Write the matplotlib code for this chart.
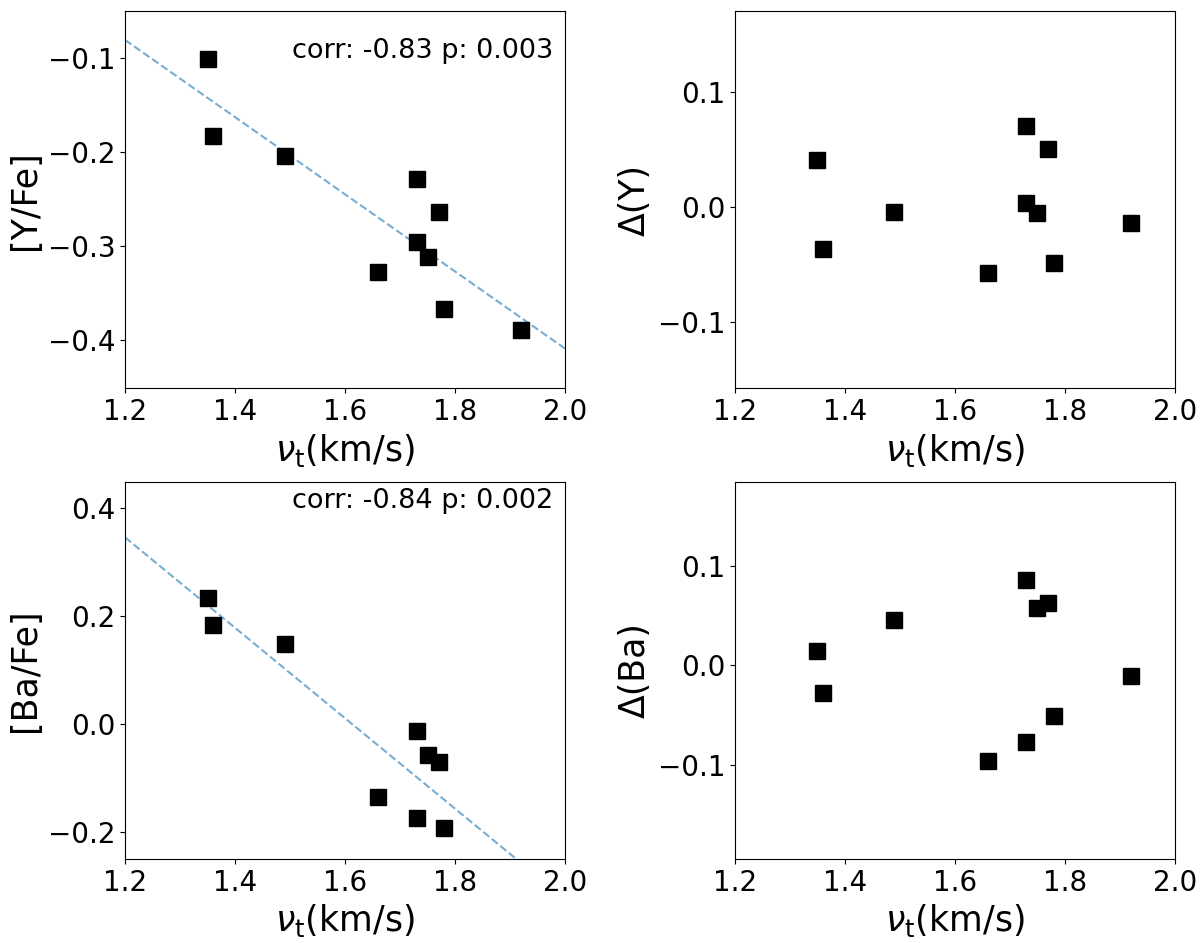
import numpy as np
import matplotlib
matplotlib.use("Agg")
import matplotlib.pyplot as plt

# ---- data ----
vt = [1.35, 1.36, 1.49, 1.66, 1.73, 1.73, 1.75, 1.77, 1.78, 1.92]
y_fe = [-0.101, -0.183, -0.204, -0.327, -0.228, -0.295, -0.311, -0.2635, -0.367, -0.389]
d_y = [0.0406, -0.0368, -0.0049, -0.0579, 0.0702, 0.0029, -0.0052, 0.0502, -0.0487, -0.0139]
ba_fe = [0.2346, 0.1839, 0.148, -0.1346, -0.0123, -0.174, -0.0568, -0.069, -0.191, -0.267]
d_ba = [0.0141, -0.0279, 0.0452, -0.096, 0.0856, -0.0768, 0.0573, 0.063, -0.0515, -0.0111]

corr_texts = ["corr: -0.83 p: 0.003", "corr: -0.84 p: 0.002"]
left_labels = ["[Y/Fe]", "[Ba/Fe]"]
right_labels = ["\u0394(Y)", "\u0394(Ba)"]
left_ylims = [(-0.451, -0.05), (-0.249, 0.449)]
right_ylims = [(-0.158, 0.170), (-0.195, 0.185)]
text_y = [-0.1003, 0.401]

xlabel = r"$\nu_{\rm t}$(km/s)"

fig, axes = plt.subplots(2, 2, figsize=(12, 9.43), dpi=100)
fig.subplots_adjust(left=0.1042, right=0.979, top=0.9883, bottom=0.0891,
                    wspace=0.386, hspace=0.247)

abund = [y_fe, ba_fe]
resid = [d_y, d_ba]
x = np.array(vt)
xx = np.linspace(1.2, 2.0, 50)

for i in range(2):
    axl = axes[i, 0]
    axr = axes[i, 1]
    yv = np.array(abund[i])
    m, b = np.polyfit(x, yv, 1)
    axl.plot(xx, m * xx + b, ls="--", color="C0", alpha=0.6, lw=1.5)
    axl.plot(x, yv, ls="none", marker="s", ms=11, color="black")
    axl.set_xlim(1.2, 2.0)
    axl.set_ylim(*left_ylims[i])
    axl.set_ylabel(left_labels[i], fontsize=25)
    axl.text(1.978, text_y[i], corr_texts[i], ha="right", va="baseline", fontsize=19.5)

    axr.plot(x, resid[i], ls="none", marker="s", ms=11, color="black")
    axr.set_xlim(1.2, 2.0)
    axr.set_ylim(*right_ylims[i])
    axr.set_ylabel(right_labels[i], fontsize=25)

    for ax in (axl, axr):
        ax.set_xlabel(xlabel, fontsize=25)
        ax.set_xticks([1.2, 1.4, 1.6, 1.8, 2.0])
        ax.tick_params(labelsize=20)

fig.savefig("out.png", dpi=100)
